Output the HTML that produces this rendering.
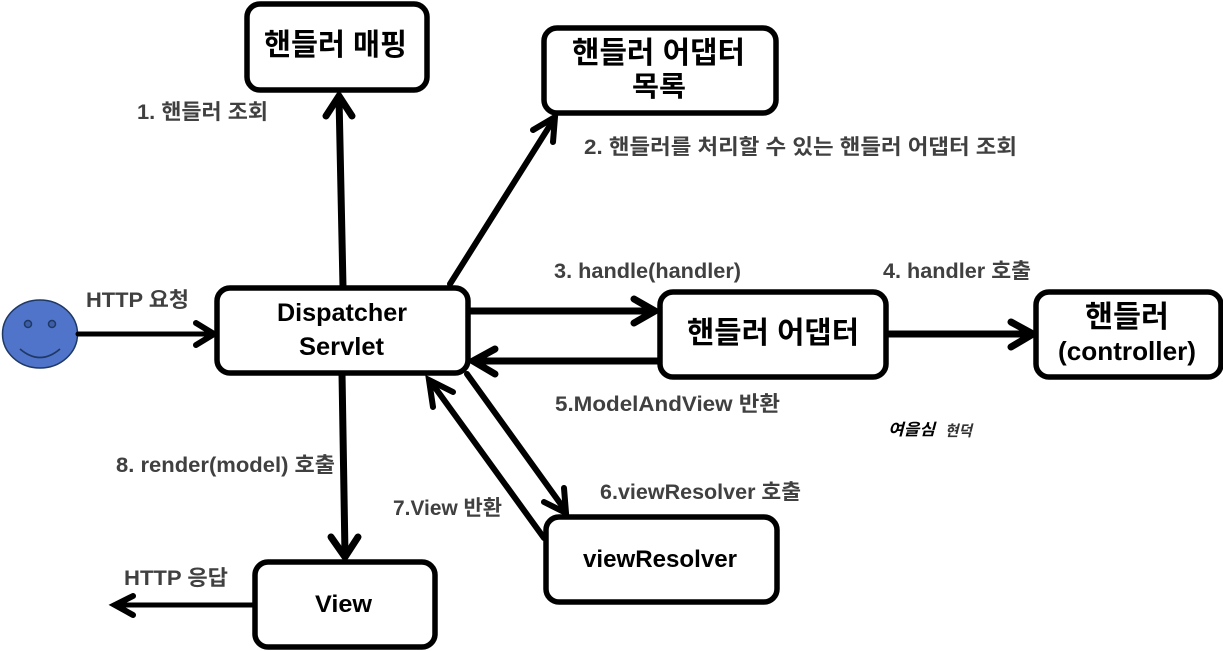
<!DOCTYPE html>
<html lang="ko">
<head>
<meta charset="utf-8">
<style>
html,body{margin:0;padding:0;background:#fff}
svg{display:block}
text{font-family:"Liberation Sans","Noto Sans CJK KR",sans-serif;font-weight:bold}
.b{fill:#000}
.l{fill:#404040;font-size:21px}
.box{fill:#fff;stroke:#000;stroke-width:5.5}
.ln{stroke:#000;fill:none;stroke-linecap:round;stroke-linejoin:miter}
</style>
</head>
<body>
<svg width="1223" height="651" viewBox="0 0 1223 651" xmlns="http://www.w3.org/2000/svg">
<rect width="1223" height="651" fill="#fff"/>

<!-- smiley -->
<ellipse cx="40" cy="334" rx="37.500" ry="34" fill="#4f74c9" stroke="#1f3864" stroke-width="1.500"/>
<circle cx="28" cy="324" r="3.500" fill="#3d5ea8" stroke="#1f3864" stroke-width="1.500"/>
<circle cx="52" cy="324" r="3.500" fill="#3d5ea8" stroke="#1f3864" stroke-width="1.500"/>
<path d="M20 349 Q40 366 60 349" fill="none" stroke="#1f3864" stroke-width="1.800"/>

<!-- connectors -->
<g class="ln">
<g stroke-width="5">
<path d="M78 334H212"/>
<path d="M253 605H116"/>
</g>
<g stroke-width="6">
<path d="M196 323L214 334L196 345"/>
<path d="M133 596L115 605L133 615"/>
<path d="M467 374L565 510"/>
<path d="M544 502L566 513L564 488"/>
<path d="M544 538L431 382"/>
<path d="M433 407L429 380L453 392"/>
<path d="M450 284L554 119"/>
<path d="M533 130L555 117L553 142"/>
</g>
<g stroke-width="7">
<path d="M343 287L339 97"/>
<path d="M326 116L339 96L352 116"/>
<path d="M342 373L345 555"/>
<path d="M331 537L345 557L358 537"/>
<path d="M470 311H652"/>
<path d="M634 299L655 311L634 323"/>
<path d="M659 361H476"/>
<path d="M495 349L473 361L495 374"/>
<path d="M888 334H1030"/>
<path d="M1011 322L1033 334L1011 347"/>
</g>
</g>

<!-- boxes -->
<rect class="box" x="247" y="4" width="180" height="86" rx="13"/>
<rect class="box" x="544" y="28" width="232" height="85" rx="13"/>
<rect class="box" x="217" y="288" width="251" height="85" rx="13"/>
<rect class="box" x="660" y="292" width="226" height="85" rx="13"/>
<rect class="box" x="1036" y="292" width="185" height="85" rx="13"/>
<rect class="box" x="546" y="517" width="231" height="85" rx="13"/>
<rect class="box" x="255" y="562" width="180" height="85" rx="13"/>

<!-- box text -->
<text class="b" x="264" y="55" font-size="30" textLength="143" lengthAdjust="spacingAndGlyphs">핸들러 매핑</text>
<text class="b" x="572" y="63" font-size="30" textLength="173" lengthAdjust="spacingAndGlyphs">핸들러 어댑터</text>
<text class="b" x="632" y="96" font-size="28" textLength="54" lengthAdjust="spacingAndGlyphs">목록</text>
<text class="b" x="277" y="321" font-size="25" textLength="130" lengthAdjust="spacingAndGlyphs">Dispatcher</text>
<text class="b" x="299" y="355" font-size="25" textLength="85" lengthAdjust="spacingAndGlyphs">Servlet</text>
<text class="b" x="687" y="343" font-size="30" textLength="172" lengthAdjust="spacingAndGlyphs">핸들러 어댑터</text>
<text class="b" x="1085" y="327" font-size="30" textLength="84" lengthAdjust="spacingAndGlyphs">핸들러</text>
<text class="b" x="1058" y="360" font-size="26" textLength="138" lengthAdjust="spacingAndGlyphs">(controller)</text>
<text class="b" x="583" y="567" font-size="24" textLength="154" lengthAdjust="spacingAndGlyphs">viewResolver</text>
<text class="b" x="315" y="612" font-size="24" textLength="57" lengthAdjust="spacingAndGlyphs">View</text>

<!-- labels -->
<text class="l" x="137" y="119" textLength="131" lengthAdjust="spacingAndGlyphs">1. 핸들러 조회</text>
<text class="l" x="584" y="154" textLength="433" lengthAdjust="spacingAndGlyphs">2. 핸들러를 처리할 수 있는 핸들러 어댑터 조회</text>
<text class="l" x="86" y="307" textLength="103" lengthAdjust="spacingAndGlyphs">HTTP 요청</text>
<text class="l" x="554" y="278" textLength="187" lengthAdjust="spacingAndGlyphs">3. handle(handler)</text>
<text class="l" x="883" y="278" textLength="148" lengthAdjust="spacingAndGlyphs">4. handler 호출</text>
<text class="l" x="555" y="411" textLength="225" lengthAdjust="spacingAndGlyphs">5.ModelAndView 반환</text>
<text class="l" x="600" y="499" textLength="201" lengthAdjust="spacingAndGlyphs">6.viewResolver 호출</text>
<text class="l" x="393" y="515" textLength="109" lengthAdjust="spacingAndGlyphs">7.View 반환</text>
<text class="l" x="116" y="472" textLength="219" lengthAdjust="spacingAndGlyphs">8. render(model) 호출</text>
<text class="l" x="124" y="585" textLength="104" lengthAdjust="spacingAndGlyphs">HTTP 응답</text>
<text x="888" y="435" font-size="16" font-style="italic" fill="#000" textLength="47" lengthAdjust="spacingAndGlyphs">여을심</text>
<text x="945" y="436" font-size="15" font-style="italic" fill="#333" textLength="27" lengthAdjust="spacingAndGlyphs">현덕</text>
</svg>
</body>
</html>
